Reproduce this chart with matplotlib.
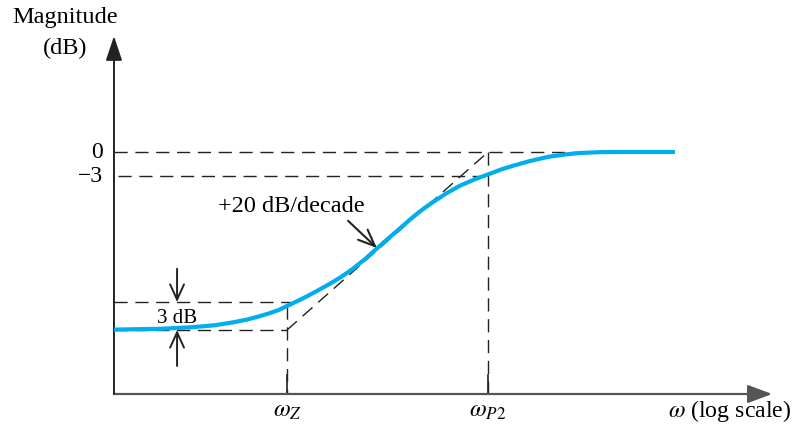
import numpy as np
import matplotlib
matplotlib.use("Agg")
import matplotlib.pyplot as plt

plt.rcParams['font.family'] = ['Liberation Serif', 'DejaVu Serif']
plt.rcParams['mathtext.fontset'] = 'stix'
plt.rcParams['lines.scale_dashes'] = False

# frequency response (omega in units of w_z, magnitude in dB)
omega = [0.11, 0.2, 0.3, 0.4, 0.5, 0.6, 0.7, 0.8, 0.9, 1.0, 1.15, 1.3, 1.5,
         1.75, 2.0, 2.3, 2.7, 3.15, 3.6, 4.2, 5.0, 5.7, 6.4, 7.6, 9.1, 11.0,
         13.0, 15.5, 18.0, 22.0, 28.0, 35.0, 42.0, 54.0, 70.0, 141.0]
mag_db = [-22.2, -22.1, -21.9, -21.65, -21.3, -20.95, -20.55, -20.15, -19.75,
          -19.25, -18.6, -18.0, -17.25, -16.4, -15.6, -14.65, -13.4, -12.05,
          -10.9, -9.6, -8.1, -7.1, -6.3, -5.2, -4.2, -3.4, -2.8, -2.15, -1.7,
          -1.15, -0.6, -0.3, -0.12, -0.02, 0.0, 0.0]

w_z = 1.0
w_p2 = 13.0
low_db = -22.25      # low-frequency level
low_3db = -18.75     # level 3 dB above it
high_db = 0.0
minus3_db = -3.0

y_ticks = [0, -3]
y_tick_labels = ['0', '\u22123']
x_tick_labels = [r'$\omega_Z$', r'$\omega_{P\mathrm{2}}$']

# axis extent
w_min, w_max = 0.11, 487.0
db_min, db_max = -30.25, 14.5

fig = plt.figure(figsize=(7.96, 4.35), dpi=100)
ax = fig.add_axes([0, 0, 1, 1])
ax.set_xscale('log')
ax.set_xlim(10 ** (-287 / 180.5), 10 ** (509 / 180.5))
ax.set_ylim(-35.25, 19.125)
ax.axis('off')

dash = dict(color='#222222', lw=1.0, dashes=(9.5, 5.5))

# axes with arrows
ax.annotate('', xy=(w_max, db_min), xytext=(w_min, db_min),
            arrowprops=dict(arrowstyle='-|>,head_length=0.75,head_width=0.28',
                            color='#555555', lw=1.6, mutation_scale=20,
                            shrinkA=0, shrinkB=0))
ax.annotate('', xy=(w_min, db_max), xytext=(w_min, db_min),
            arrowprops=dict(arrowstyle='-|>,head_length=0.75,head_width=0.25',
                            color='#222222', lw=1.4, mutation_scale=20,
                            shrinkA=0, shrinkB=0))

# dashed guide lines
ax.plot([w_min, 54.0], [high_db, high_db], **dash)
ax.plot([w_min * 1.05, w_p2], [minus3_db, minus3_db], **dash)
ax.plot([w_p2, w_p2], [high_db, db_min], **dash)
ax.plot([w_z, w_p2], [low_db, high_db], **dash)
ax.plot([w_min, w_z], [low_db, low_db], **dash)
ax.plot([w_min, w_z * 1.05], [low_3db, low_3db], **dash)
ax.plot([w_z, w_z], [low_3db - 0.5, db_min], **dash)

# ticks on the frequency axis
for w in [w_z, w_p2]:
    ax.plot([w, w], [db_min, db_min + 2.4], color='#222222', lw=1.2)

# response curve
ax.plot(omega, mag_db, color='#00aeef', lw=3.0, solid_capstyle='butt',
        solid_joinstyle='round', zorder=5)

# 3 dB dimension arrows
w_dim = 0.246
ax.annotate('', xy=(w_dim, low_3db), xytext=(w_dim, -14.6),
            arrowprops=dict(arrowstyle='->,head_length=0.55,head_width=0.25',
                            color='#222222', lw=1.4, mutation_scale=20,
                            shrinkA=0, shrinkB=0))
ax.annotate('', xy=(w_dim, low_db), xytext=(w_dim, -26.75),
            arrowprops=dict(arrowstyle='->,head_length=0.55,head_width=0.25',
                            color='#222222', lw=1.4, mutation_scale=20,
                            shrinkA=0, shrinkB=0))
ax.text(w_dim, -20.7, '3 dB', ha='center', va='center', fontsize=15)

# slope annotation
ax.annotate('', xy=(3.15, -12.0), xytext=(2.18, -8.6),
            arrowprops=dict(arrowstyle='->,head_length=0.6,head_width=0.25',
                            color='#222222', lw=1.5, mutation_scale=20,
                            shrinkA=0, shrinkB=0))
ax.text(0.415, -6.75, '+20 dB/decade', ha='left', va='center', fontsize=17.5)

# tick labels
for v, lab in zip(y_ticks, y_tick_labels):
    ax.text(0.0957, v, lab, ha='right', va='center', fontsize=17)
for w, lab in zip([w_z, w_p2], x_tick_labels):
    ax.text(w, -32.3, lab, ha='center', va='center', fontsize=17.5)
ax.text(129.0, -32.3, r'$\omega$ (log scale)', ha='left', va='center',
        fontsize=17.2)

ax.text(0.0589, 16.9, 'Magnitude', ha='center', va='center', fontsize=17.5)
ax.text(0.0589, 13.1, '(dB)', ha='center', va='center', fontsize=17.5)

fig.savefig('out.png', dpi=100)
